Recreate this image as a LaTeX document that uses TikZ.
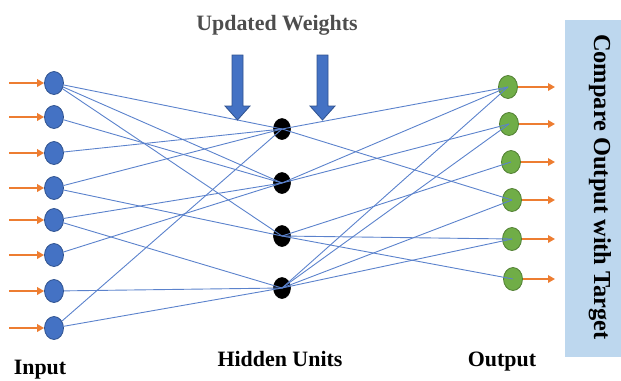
\documentclass[tikz,border=0pt]{standalone}
\usepackage{fontspec}
\setmainfont{Liberation Serif}
\usetikzlibrary{arrows.meta,shapes.geometric}

\definecolor{inblue}{HTML}{4472C4}
\definecolor{inedge}{HTML}{2F528F}
\definecolor{outgreen}{HTML}{70AD47}
\definecolor{outedge}{HTML}{507E32}
\definecolor{feedorange}{HTML}{ED7D31}
\definecolor{panelblue}{HTML}{BDD7EE}
\definecolor{wireblue}{HTML}{5B82CC}
\definecolor{titlegray}{HTML}{4D4D4D}

\tikzset{
  innode/.style={ellipse, draw=inedge, fill=inblue, line width=0.8bp,
    minimum width=19bp, minimum height=23bp, inner sep=0pt},
  hidnode/.style={ellipse, draw=black, fill=black, line width=0.6bp,
    minimum width=17bp, minimum height=21bp, inner sep=0pt},
  outnode/.style={ellipse, draw=outedge, fill=outgreen, line width=0.8bp,
    minimum width=19bp, minimum height=23bp, inner sep=0pt},
  wire/.style={draw=wireblue, line width=0.9bp},
  feed/.style={draw=feedorange, line width=2bp,
    -{Triangle[length=7bp,width=7.5bp]}},
  blockarrow/.style={fill=inblue, draw=inedge, line width=0.8bp},
  caption/.style={font=\bfseries\fontsize{22}{24}\selectfont, inner sep=0pt}
}

\begin{document}
\begin{tikzpicture}[x=1bp, y=-1bp]
  \useasboundingbox (0,0) rectangle (621,380);

  % comparison panel on the right
  \fill[panelblue] (565,20) rectangle (621,357);
  \node[caption, rotate=-90, font=\bfseries\fontsize{24.5}{26}\selectfont]
    (cmp) at (600,187) {Compare Output with Target};

  % layers
  \foreach \k/\yy in {1/83,2/117,3/153,4/188,5/220,6/255,7/291,8/328}{
    \node[innode] (i\k) at (54,\yy) {};
    \coordinate (s\k) at (9,\yy);
  }
  \foreach \k/\yy in {1/129,2/183,3/236,4/288}{
    \node[hidnode] (h\k) at (282,\yy) {};
  }
  \foreach \k/\xx/\yy in {1/508/87,2/509/124,3/511/162,4/512/200,5/512/239,6/513/279}{
    \node[outnode] (o\k) at (\xx,\yy) {};
    \coordinate (t\k) at (555,\yy);
  }

  % input -> hidden weights
  \foreach \a/\b in {1/1,1/2,1/3,2/2,3/1,4/1,4/3,5/2,5/4,6/2,7/4,8/1,8/4}{
    \draw[wire] (i\a) -- (h\b.center);
  }
  % hidden -> output weights
  \foreach \a/\b in {1/1,1/4,2/1,2/2,3/3,3/5,3/6,4/1,4/2,4/4,4/5}{
    \draw[wire] (h\a.center) -- (o\b.center);
  }

  % incoming signals and outputs
  \foreach \k in {1,...,8}{ \draw[feed] (s\k) -- (i\k); }
  \foreach \k in {1,...,6}{ \draw[feed] (o\k) -- (t\k); }

  % weight update arrows
  \node[caption, text=titlegray] (upd) at (277,25) {Updated Weights};
  \foreach \cx in {237.5,322.5}{
    \path[blockarrow] (\cx-5.5,55) -- (\cx+5.5,55) -- (\cx+5.5,106)
      -- (\cx+12.5,106) -- (\cx,120) -- (\cx-12.5,106) -- (\cx-5.5,106) -- cycle;
  }

  % layer captions
  \node[caption, anchor=base] (lin) at (40,374) {Input};
  \node[caption, anchor=base] (lhid) at (280,366) {Hidden Units};
  \node[caption, anchor=base] (lout) at (502,366) {Output};
\end{tikzpicture}
\end{document}
